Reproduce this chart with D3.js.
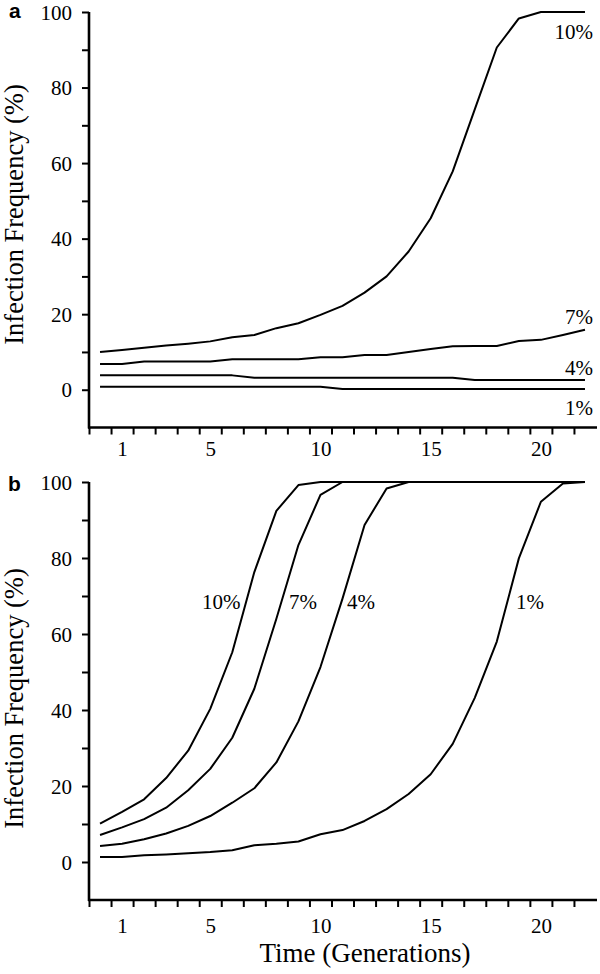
<!DOCTYPE html>
<html>
<head>
<meta charset="utf-8">
<script src="https://cdn.jsdelivr.net/npm/d3@7"></script>
<style>
  html, body { margin: 0; padding: 0; background: #fff; }
  svg { display: block; }
  text { font-family: "Liberation Serif", "Times New Roman", Times, serif; fill: #000; }
</style>
</head>
<body>
<svg id="chart" width="600" height="974"></svg>
<script>
// ---------- DATA ----------
const generations = d3.range(0, 23);           // time points 0..22
const xTickLabels = [1, 5, 10, 15, 20];
const yTickValues = [0, 10, 20, 30, 40, 50, 60, 70, 80, 90, 100];
const seriesNames = ["10%", "7%", "4%", "1%"];

// panel a
const a10 = [10, 10.5, 11.1, 11.7, 12.2, 12.8, 13.9, 14.5, 16.3, 17.6, 19.8, 22.2, 25.7, 30.0, 36.6, 45.4, 57.8, 74.2, 90.6, 98.3, 100, 100, 100];
const a7  = [6.8, 6.8, 7.5, 7.5, 7.5, 7.5, 8.1, 8.1, 8.1, 8.1, 8.6, 8.6, 9.2, 9.2, 10.0, 10.8, 11.5, 11.6, 11.6, 12.9, 13.2, 14.5, 15.9];
const a4  = [3.8, 3.8, 3.8, 3.8, 3.8, 3.8, 3.8, 3.2, 3.2, 3.2, 3.2, 3.2, 3.2, 3.2, 3.2, 3.2, 3.2, 2.6, 2.6, 2.6, 2.6, 2.6, 2.6];
const a1  = [0.8, 0.8, 0.8, 0.8, 0.8, 0.8, 0.8, 0.8, 0.8, 0.8, 0.8, 0.2, 0.2, 0.2, 0.2, 0.2, 0.2, 0.2, 0.2, 0.2, 0.2, 0.2, 0.2];

// panel b
const b10 = [10.1, 13.2, 16.5, 22.1, 29.3, 40.3, 55.2, 76.3, 92.4, 99.2, 100, 100, 100, 100, 100, 100, 100, 100, 100, 100, 100, 100, 100];
const b7  = [7.1, 9.1, 11.3, 14.3, 18.9, 24.5, 32.7, 45.6, 64.0, 83.4, 96.6, 100, 100, 100, 100, 100, 100, 100, 100, 100, 100, 100, 100];
const b4  = [4.2, 4.8, 6.0, 7.5, 9.5, 12.1, 15.6, 19.4, 26.2, 37.0, 51.3, 69.3, 88.7, 98.3, 100, 100, 100, 100, 100, 100, 100, 100, 100];
const b1  = [1.3, 1.3, 1.8, 2.0, 2.3, 2.6, 3.1, 4.4, 4.8, 5.4, 7.3, 8.4, 10.8, 13.9, 17.9, 23.1, 31.1, 43.2, 58.0, 79.9, 94.8, 99.6, 100];

// ---------- DRAW ----------
const SERIF = '"Liberation Serif", "Times New Roman", Times, serif';
const SANS = '"Liberation Sans", Arial, Helvetica, sans-serif';
const svg = d3.select("#chart");

const x = d3.scaleLinear().domain([-0.5, 22.5]).range([89, 596]);

function drawPanel(cfg) {
  const g = svg.append("g");
  const y = d3.scaleLinear().domain([-10, 100]).range([cfg.bottom, cfg.top]);

  // y axis
  const yAxis = d3.axisLeft(y)
    .tickValues(yTickValues)
    .tickSize(7)
    .tickSizeOuter(0)
    .tickPadding(10)
    .tickFormat(d => d % 20 === 0 ? d : "");
  const gy = g.append("g").attr("transform", `translate(${x.range()[0]},0)`).call(yAxis);
  gy.attr("font-family", null).attr("font-size", null);
  gy.select(".domain").attr("stroke-width", 2.6).attr("d", `M0,${y(100)}V${y(-10) + 1}`);
  gy.selectAll(".tick line").attr("stroke-width", 2);
  gy.selectAll(".tick text").style("font-size", "21px").style("font-family", SERIF).attr("dy", "0.34em");

  // x axis: tick marks at generation boundaries
  const xTicks = d3.axisBottom(x)
    .tickValues(d3.range(-0.5, 22, 1))
    .tickSize(7)
    .tickSizeOuter(0)
    .tickFormat("");
  const gx = g.append("g").attr("transform", `translate(0,${y(-10)})`).call(xTicks);
  gx.select(".domain").attr("stroke-width", 2.6).attr("d", `M${x.range()[0] - 1},0H${x.range()[1] + 1}`);
  gx.selectAll(".tick line").attr("stroke-width", 2);

  // x axis labels at generation centres
  const xLabels = d3.axisBottom(x)
    .tickValues(xTickLabels)
    .tickSize(0)
    .tickPadding(cfg.labelPad);
  const gxl = g.append("g").attr("transform", `translate(0,${y(-10)})`).call(xLabels);
  gxl.attr("font-family", null).attr("font-size", null);
  gxl.select(".domain").remove();
  gxl.selectAll(".tick text").style("font-size", "21px").style("font-family", SERIF);

  // lines
  const line = d3.line().x((d, i) => x(generations[i])).y(d => y(d));
  cfg.series.forEach(s => {
    g.append("path")
      .datum(s.values)
      .attr("fill", "none")
      .attr("stroke", "#000")
      .attr("stroke-width", 2)
      .attr("stroke-linejoin", "round")
      .attr("d", line);
    g.append("text")
      .attr("x", s.lx).attr("y", s.ly)
      .attr("text-anchor", s.anchor)
      .style("font-size", "21px")
      .style("font-family", SERIF)
      .text(s.name);
  });

  // y axis title
  g.append("text")
    .attr("transform", `translate(23,${cfg.titleY}) rotate(-90)`)
    .attr("text-anchor", "middle")
    .style("font-size", "26.5px")
    .style("font-family", SERIF)
    .text("Infection Frequency (%)");

  // panel letter
  g.append("text")
    .attr("x", cfg.letterX).attr("y", cfg.letterY)
    .style("font-family", SANS)
    .style("font-weight", "bold")
    .style("font-size", "21px")
    .text(cfg.letter);
}

drawPanel({
  top: 12, bottom: 427.5, labelPad: 14, titleY: 214.5,
  letter: "a", letterX: 9, letterY: 18,
  series: [
    { name: seriesNames[0], values: a10, lx: 593, ly: 39, anchor: "end" },
    { name: seriesNames[1], values: a7,  lx: 593, ly: 324, anchor: "end" },
    { name: seriesNames[2], values: a4,  lx: 593, ly: 375, anchor: "end" },
    { name: seriesNames[3], values: a1,  lx: 593, ly: 415, anchor: "end" }
  ]
});

drawPanel({
  top: 482, bottom: 900, labelPad: 18, titleY: 698.5,
  letter: "b", letterX: 8, letterY: 491,
  series: [
    { name: seriesNames[0], values: b10, lx: 202, ly: 609, anchor: "start" },
    { name: seriesNames[1], values: b7,  lx: 289, ly: 609, anchor: "start" },
    { name: seriesNames[2], values: b4,  lx: 347, ly: 609, anchor: "start" },
    { name: seriesNames[3], values: b1,  lx: 516, ly: 609, anchor: "start" }
  ]
});

// x axis title
svg.append("text")
  .attr("x", 365).attr("y", 962)
  .attr("text-anchor", "middle")
  .style("font-size", "27px")
  .style("font-family", SERIF)
  .text("Time (Generations)");
</script>
</body>
</html>
